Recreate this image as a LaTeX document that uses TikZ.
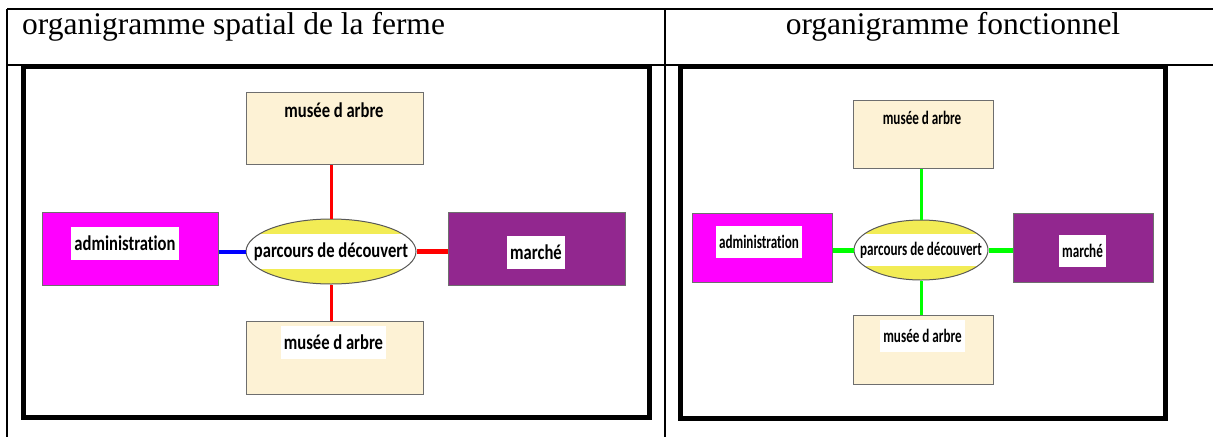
\documentclass[tikz,border=0pt]{standalone}
\usepackage{fontspec}
\setmainfont{Liberation Serif}
\newfontfamily\labelfont[FakeStretch=0.79,Ligatures=NoCommon]{Carlito}
\newfontfamily\narrowlabelfont[FakeStretch=0.69,Ligatures=NoCommon]{Carlito}
\usetikzlibrary{shapes.geometric,positioning}
\definecolor{museeCream}{HTML}{FDF2D5}
\definecolor{adminMagenta}{HTML}{FF00FF}
\definecolor{marchePurple}{HTML}{92278F}
\definecolor{parcoursYellow}{HTML}{F2EC55}
\definecolor{boxGray}{HTML}{6E6E6E}
\tikzset{
myRule/.style={line width=1.2pt, black}
, myFrame/.style={line width=5pt, black}
, myBox/.style={
	rectangle, draw=boxGray, line width=1pt,
	inner sep=0pt
}
, myMusee/.style={myBox, fill=museeCream}
, myAdmin/.style={myBox, fill=adminMagenta}
, myMarche/.style={myBox, fill=marchePurple}
, myParcours/.style={
	ellipse, draw=boxGray!80!black, line width=1pt,
	fill=parcoursYellow, inner sep=0pt,
	path picture = {
		\fill[white]
		([yshift=-#1]path picture bounding box.north west) rectangle
		([yshift=#1]path picture bounding box.south east);
	}
}
, myText/.style={inner sep=0pt, text=black}
, myLabel/.style={
	fill=white, inner xsep=3pt, inner ysep=0pt, text=black
}
, leftFont/.style={font=\labelfont\bfseries\fontsize{21}{24}\selectfont}
, rightFont/.style={font=\narrowlabelfont\bfseries\fontsize{19}{22}\selectfont}
, titleFont/.style={font=\fontsize{31.5}{36}\selectfont}
% links
, myLinkRedV/.style={red, line width=3pt}
, myLinkRedH/.style={red, line width=5pt}
, myLinkBlue/.style={blue, line width=4pt}
, myLinkGreenV/.style={green, line width=3pt}
, myLinkGreenH/.style={green, line width=5pt}
}
\begin{document}
\begin{tikzpicture}[x=1pt,y=-1pt]
	\useasboundingbox (0,0) rectangle (1213,437);
	% table
	\draw[myRule] (7,9) -- (1213,9);
	\draw[myRule] (7,9) -- (7,437);
	\draw[myRule] (665,9) -- (665,437);
	\draw[line width=2.5pt] (7,65) -- (1213,65);
	\node[anchor=base west, inner sep=0pt, titleFont] (TitreSpatial) at (22,34) {organigramme spatial de la ferme};
	\node[anchor=base, inner sep=0pt, titleFont] (TitreFonction) at (953,34) {organigramme fonctionnel};
	% frames
	\draw[myFrame] (23,66.5) rectangle (649,417);
	\draw[myFrame] (680,66.5) rectangle (1165,418);

	% spatial: nodes
	\node[myMusee, minimum width=177pt, minimum height=72pt] (MuseeTopL) at (334.5,128) {};
	\node[myMusee, minimum width=177pt, minimum height=73pt] (MuseeBotL) at (334.5,357.5) {};
	\node[myAdmin, minimum width=176pt, minimum height=73pt] (AdminL) at (130,248.5) {};
	\node[myMarche, minimum width=177pt, minimum height=73pt] (MarcheL) at (536.5,248.5) {};
	\node[myParcours=15pt, minimum width=170pt, minimum height=65pt] (ParcoursL) at (331,251.5) {};
	% spatial: labels
	\node[myText, leftFont] (ParcoursTextL) at (ParcoursL.center) {parcours de découvert};
	\node[myText, leftFont] (MuseeTopTextL) at (334,110) {musée d arbre};
	\node[myLabel, leftFont, minimum height=33pt] (MuseeBotTextL) at (333.5,342.5) {musée d arbre};
	\node[myLabel, leftFont, minimum height=33pt] (AdminTextL) at (125,243.5) {administration};
	\node[myLabel, leftFont, minimum height=33pt] (MarcheTextL) at (536,252.5) {marché};
	% spatial: links
	\draw[myLinkRedV] (ParcoursL.north) -- (ParcoursL.north |- MuseeTopL.south);
	\draw[myLinkRedV] (ParcoursL.south) -- (ParcoursL.south |- MuseeBotL.north);
	\draw[myLinkBlue] (ParcoursL.west) -- (ParcoursL.west -| AdminL.east);
	\draw[myLinkRedH] (ParcoursL.east) -- (ParcoursL.east -| MarcheL.west);

	% fonctionnel: nodes
	\node[myMusee, minimum width=140pt, minimum height=68pt] (MuseeTopR) at (923,134) {};
	\node[myMusee, minimum width=140pt, minimum height=69pt] (MuseeBotR) at (923,349.5) {};
	\node[myAdmin, minimum width=140pt, minimum height=69pt] (AdminR) at (762,247.5) {};
	\node[myMarche, minimum width=140pt, minimum height=69pt] (MarcheR) at (1083,247.5) {};
	\node[myParcours=14pt, minimum width=134pt, minimum height=60pt] (ParcoursR) at (921,250) {};
	% fonctionnel: labels
	\node[myText, rightFont] (ParcoursTextR) at (ParcoursR.center) {parcours de découvert};
	\node[myText, rightFont] (MuseeTopTextR) at (922,118) {musée d arbre};
	\node[myLabel, rightFont, minimum height=32pt] (MuseeBotTextR) at (922.5,335.5) {musée d arbre};
	\node[myLabel, rightFont, minimum height=32pt] (AdminTextR) at (759,242) {administration};
	\node[myLabel, rightFont, minimum height=32pt] (MarcheTextR) at (1082.5,250.5) {marché};
	% fonctionnel: links
	\draw[myLinkGreenV] (ParcoursR.north) -- (ParcoursR.north |- MuseeTopR.south);
	\draw[myLinkGreenV] (ParcoursR.south) -- (ParcoursR.south |- MuseeBotR.north);
	\draw[myLinkGreenH] (ParcoursR.west) -- (ParcoursR.west -| AdminR.east);
	\draw[myLinkGreenH] (ParcoursR.east) -- (ParcoursR.east -| MarcheR.west);
\end{tikzpicture}
\end{document}
